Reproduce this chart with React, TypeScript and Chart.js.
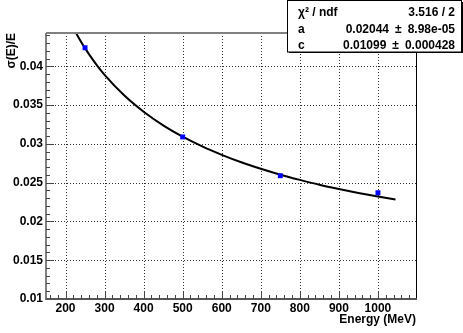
import { useEffect, useRef } from 'react';
import { Chart, registerables } from 'chart.js';

Chart.register(...registerables);

const FONT = '"Liberation Sans", Arial, Helvetica, sans-serif';

// Measured points
const energies = [250, 500, 750, 1000];
const sigmaOverE = [0.0424, 0.0309, 0.0259, 0.0237];

// Fit curve
const fitEnergies = [210, 220, 240, 260, 280, 300, 350, 400, 450, 500, 550, 600, 650, 700, 750, 800, 850, 900, 950, 1000, 1045];
const fitValues = [0.04594, 0.04494, 0.04315, 0.04157, 0.04016, 0.0389, 0.03626, 0.03414, 0.03239, 0.03093, 0.02967, 0.02859, 0.02763, 0.02679, 0.02603, 0.02536, 0.02474, 0.02419, 0.02368, 0.02321, 0.02282];

// Axis ticks
const xTicks = [200, 300, 400, 500, 600, 700, 800, 900, 1000];
const yTicks = [0.01, 0.015, 0.02, 0.025, 0.03, 0.035, 0.04];

// Stats box
const statNames = ['χ² / ndf', 'a', 'c'];
const statValues = ['3.516 / 2', '0.02044\u2002±\u20028.98e-05', '0.01099\u2002±\u20020.000428'];

const rootPlugin = {
  id: 'rootStyle',
  beforeDatasetsDraw(chart: any) {
    const { ctx, chartArea: a, scales } = chart;
    ctx.save();
    ctx.strokeStyle = '#333';
    ctx.lineWidth = 1;
    ctx.setLineDash([1, 2]);
    xTicks.forEach((v) => {
      const px = Math.round(scales.x.getPixelForValue(v)) + 0.5;
      ctx.beginPath();
      ctx.moveTo(px, a.top);
      ctx.lineTo(px, a.bottom);
      ctx.stroke();
    });
    yTicks.forEach((v) => {
      if (v <= 0.01) return;
      const py = Math.round(scales.y.getPixelForValue(v)) + 0.5;
      ctx.beginPath();
      ctx.moveTo(a.left, py);
      ctx.lineTo(a.right, py);
      ctx.stroke();
    });
    ctx.restore();
  },
  afterDraw(chart: any) {
    const { ctx, chartArea: a, scales } = chart;
    ctx.save();
    ctx.setLineDash([]);
    // frame
    ctx.strokeStyle = '#000';
    ctx.lineWidth = 1;
    ctx.beginPath();
    ctx.moveTo(a.right - 0.5, a.top);
    ctx.lineTo(a.right - 0.5, a.bottom);
    ctx.stroke();
    ctx.strokeStyle = '#808080';
    ctx.lineWidth = 2;
    ctx.beginPath();
    ctx.moveTo(a.left, a.top);
    ctx.lineTo(a.right, a.top);
    ctx.stroke();
    ctx.beginPath();
    ctx.moveTo(a.left, a.top);
    ctx.lineTo(a.left, a.bottom + 1);
    ctx.stroke();
    ctx.strokeStyle = '#555';
    ctx.beginPath();
    ctx.moveTo(a.left, a.bottom);
    ctx.lineTo(a.right, a.bottom);
    ctx.stroke();
    // ticks
    ctx.strokeStyle = '#444';
    ctx.lineWidth = 1;
    for (let e = 160; e <= 1080; e += 20) {
      const px = Math.round(scales.x.getPixelForValue(e)) + 0.5;
      const len = e % 100 === 0 ? 8 : 4;
      ctx.beginPath();
      ctx.moveTo(px, a.bottom);
      ctx.lineTo(px, a.bottom - len);
      ctx.stroke();
    }
    for (let i = 11; i <= 44; i++) {
      const py = Math.round(scales.y.getPixelForValue(i / 1000)) + 0.5;
      const len = i % 5 === 0 ? 8 : 4;
      ctx.beginPath();
      ctx.moveTo(a.left, py);
      ctx.lineTo(a.left + len, py);
      ctx.stroke();
    }
    // axis titles
    ctx.fillStyle = '#000';
    ctx.font = `bold 12px ${FONT}`;
    ctx.textBaseline = 'middle';
    ctx.textAlign = 'right';
    ctx.fillText('Energy (MeV)', a.right - 1, 320);
    ctx.save();
    ctx.translate(12, a.top);
    ctx.rotate(-Math.PI / 2);
    ctx.textAlign = 'right';
    ctx.fillText('σ(E)/E', 0, 0);
    ctx.restore();
    // stats box
    ctx.fillStyle = '#fff';
    ctx.fillRect(287, 0, 175, 52);
    ctx.strokeStyle = '#000';
    ctx.lineWidth = 1;
    ctx.strokeRect(287.5, 0.5, 174, 51.5);
    ctx.fillStyle = '#000';
    ctx.fillRect(289, 52, 174, 1);
    ctx.fillRect(462, 2, 1, 51);
    ctx.font = `bold 12px ${FONT}`;
    const rowsY = [12.5, 29.5, 46];
    statNames.forEach((n, i) => {
      ctx.textAlign = 'left';
      ctx.fillText(n, 298, rowsY[i]);
      ctx.textAlign = 'right';
      ctx.fillText(statValues[i], 455, rowsY[i]);
    });
    ctx.restore();
  },
};

export default function App() {
  const ref = useRef<HTMLCanvasElement>(null);
  useEffect(() => {
    document.body.style.margin = '0';
    const chart = new Chart(ref.current as HTMLCanvasElement, {
      type: 'scatter',
      data: {
        datasets: [
          {
            type: 'line',
            data: fitEnergies.map((x, i) => ({ x, y: fitValues[i] })),
            borderColor: '#000',
            borderWidth: 2,
            pointRadius: 0,
            cubicInterpolationMode: 'monotone',
            fill: false,
            order: 2,
          } as any,
          {
            type: 'scatter',
            data: energies.map((x, i) => ({ x, y: sigmaOverE[i] })),
            pointStyle: 'rect',
            pointRadius: 3.5,
            backgroundColor: '#0000ff',
            borderWidth: 0,
            order: 1,
          } as any,
        ],
      },
      options: {
        responsive: false,
        animation: false,
        devicePixelRatio: 1,
        layout: { padding: { top: 33, right: 46, left: 0, bottom: 0 } },
        plugins: { legend: { display: false }, tooltip: { enabled: false } },
        scales: {
          x: {
            type: 'linear',
            min: 150,
            max: 1100,
            afterBuildTicks: (s: any) => {
              s.ticks = xTicks.map((v) => ({ value: v }));
            },
            afterFit: (s: any) => {
              s.height = 34;
            },
            grid: { display: false, drawTicks: false },
            border: { display: false },
            ticks: {
              color: '#000',
              font: { family: FONT, size: 12, weight: 'bold' },
              padding: 2,
              maxRotation: 0,
              autoSkip: false,
              callback: (v: any) => String(v),
            },
          },
          y: {
            type: 'linear',
            min: 0.01,
            max: 0.0443,
            afterBuildTicks: (s: any) => {
              s.ticks = yTicks.map((v) => ({ value: v }));
            },
            afterFit: (s: any) => {
              s.width = 46;
            },
            grid: { display: false, drawTicks: false },
            border: { display: false },
            ticks: {
              color: '#000',
              font: { family: FONT, size: 12, weight: 'bold' },
              padding: 3,
              autoSkip: false,
              callback: (v: any) => String(v),
            },
          },
        },
      } as any,
      plugins: [rootPlugin],
    });
    return () => chart.destroy();
  }, []);
  return (
    <div style={{ width: 463, height: 333 }}>
      <canvas ref={ref} width={463} height={333} style={{ display: 'block' }} />
    </div>
  );
}
